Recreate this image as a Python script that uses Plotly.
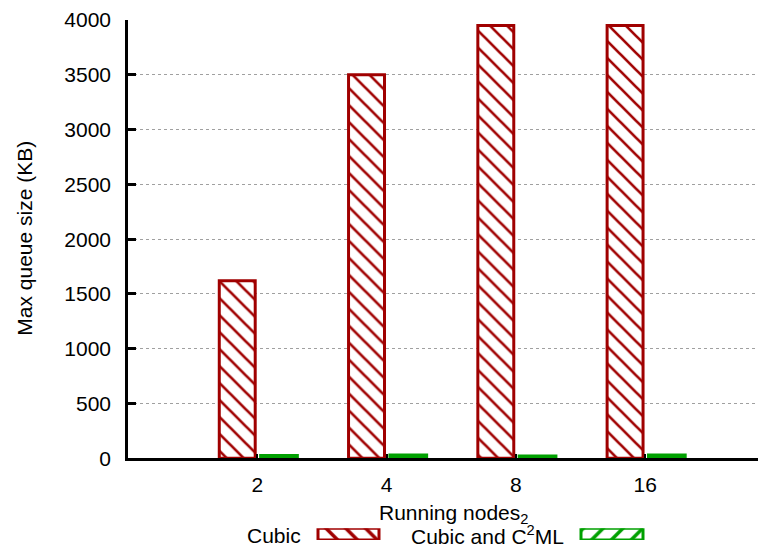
import plotly.graph_objects as go

categories = ["2", "4", "8", "16"]
cubic = [1620, 3500, 3950, 3950]
cubic_c2ml = [25, 30, 22, 30]
y_ticks = [0, 500, 1000, 1500, 2000, 2500, 3000, 3500, 4000]

RED = "#a00000"
GREEN = "#00a000"
FONT = "Liberation Sans, Arial, Helvetica, sans-serif"
FS = 21

# the page body adds an 8px margin; size the figure so it ends at the window edge
OFF = 8
W, H = 766 - OFF, 558 - OFF
l, r, t, b = 128 - OFF, 0, 17 - OFF, 6
plot_w = W - l - r
plot_h = H - t - b


def py(screen_y):
    return (H - b - (screen_y - OFF)) / plot_h


def px(screen_x):
    return ((screen_x - OFF) - l) / plot_w


fig = go.Figure()
fig.add_trace(go.Bar(
    x=categories, y=cubic, name="Cubic", width=0.278, offset=-0.294,
    marker=dict(color="white", line=dict(color=RED, width=3),
                pattern=dict(shape="\\", fgcolor=RED, bgcolor="white", size=12,
                             solidity=0.22, fgopacity=1)),
    showlegend=False))
fig.add_trace(go.Bar(
    x=categories, y=cubic_c2ml, name="Cubic and C<sup>2</sup>ML", width=0.284, offset=0.026,
    marker=dict(color=GREEN, line=dict(color=GREEN, width=3)),
    showlegend=False))

# legend keys (drawn on a small helper axis in screen-pixel units)
fig.add_trace(go.Bar(
    y=[0], x=[61], base=[318], orientation="h", width=1, xaxis="x2", yaxis="y2",
    marker=dict(color="white", line=dict(color=RED, width=3),
                pattern=dict(shape="\\", fgcolor=RED, bgcolor="white", size=14,
                             solidity=0.25, fgopacity=1)),
    showlegend=False, hoverinfo="skip"))
fig.add_trace(go.Bar(
    y=[0], x=[62], base=[581], orientation="h", width=1, xaxis="x2", yaxis="y2",
    marker=dict(color="white", line=dict(color=GREEN, width=3),
                pattern=dict(shape="/", fgcolor=GREEN, bgcolor="white", size=14,
                             solidity=0.25, fgopacity=1)),
    showlegend=False, hoverinfo="skip"))

fig.update_layout(
    width=W, height=H,
    margin=dict(l=l, r=r, t=t, b=b, pad=0),
    plot_bgcolor="white", paper_bgcolor="white",
    font=dict(family=FONT, size=FS, color="black"),
    barmode="overlay",
    xaxis=dict(
        type="category", range=[-1, 3.935], domain=[0, 1],
        showline=True, linecolor="black", linewidth=2.5,
        ticks="inside", ticklen=5, tickwidth=2, tickcolor="black",
        showgrid=False, zeroline=False,
        tickfont=dict(size=FS), ticklabelstandoff=6, ticklabeloverflow="allow",
        anchor="y",
    ),
    yaxis=dict(
        range=[0, 4000], domain=[py(462), 1],
        tickvals=y_ticks,
        showline=True, linecolor="black", linewidth=2.5,
        ticks="inside", ticklen=8, tickwidth=2.5, tickcolor="black",
        showgrid=True, gridcolor="#a0a0a0", griddash="dot", gridwidth=1,
        zeroline=False,
        tickfont=dict(size=FS), ticklabelstandoff=10, ticklabeloverflow="allow",
    ),
    xaxis2=dict(range=[128, 766], domain=[0, 1], anchor="y2", visible=False, fixedrange=True),
    yaxis2=dict(range=[-0.5, 0.5], domain=[py(545), py(533)], anchor="x2", visible=False, fixedrange=True),
    annotations=[
        dict(text="Max queue size (KB)", x=px(25), y=py(239), xref="paper", yref="paper",
             xanchor="center", yanchor="middle", textangle=-90, showarrow=False,
             font=dict(size=FS)),
        dict(text="Running nodes<sub>2</sub>", x=px(377), y=py(518), xref="paper", yref="paper",
             xanchor="left", yanchor="middle", showarrow=False, font=dict(size=FS)),
        dict(text="Cubic", x=px(303), y=py(540), xref="paper", yref="paper",
             xanchor="right", yanchor="middle", showarrow=False, font=dict(size=FS)),
        dict(text="Cubic and C<sup>2</sup>ML", x=px(566), y=py(540), xref="paper", yref="paper",
             xanchor="right", yanchor="middle", showarrow=False, font=dict(size=FS)),
    ],
)

fig.write_html("out.html")
